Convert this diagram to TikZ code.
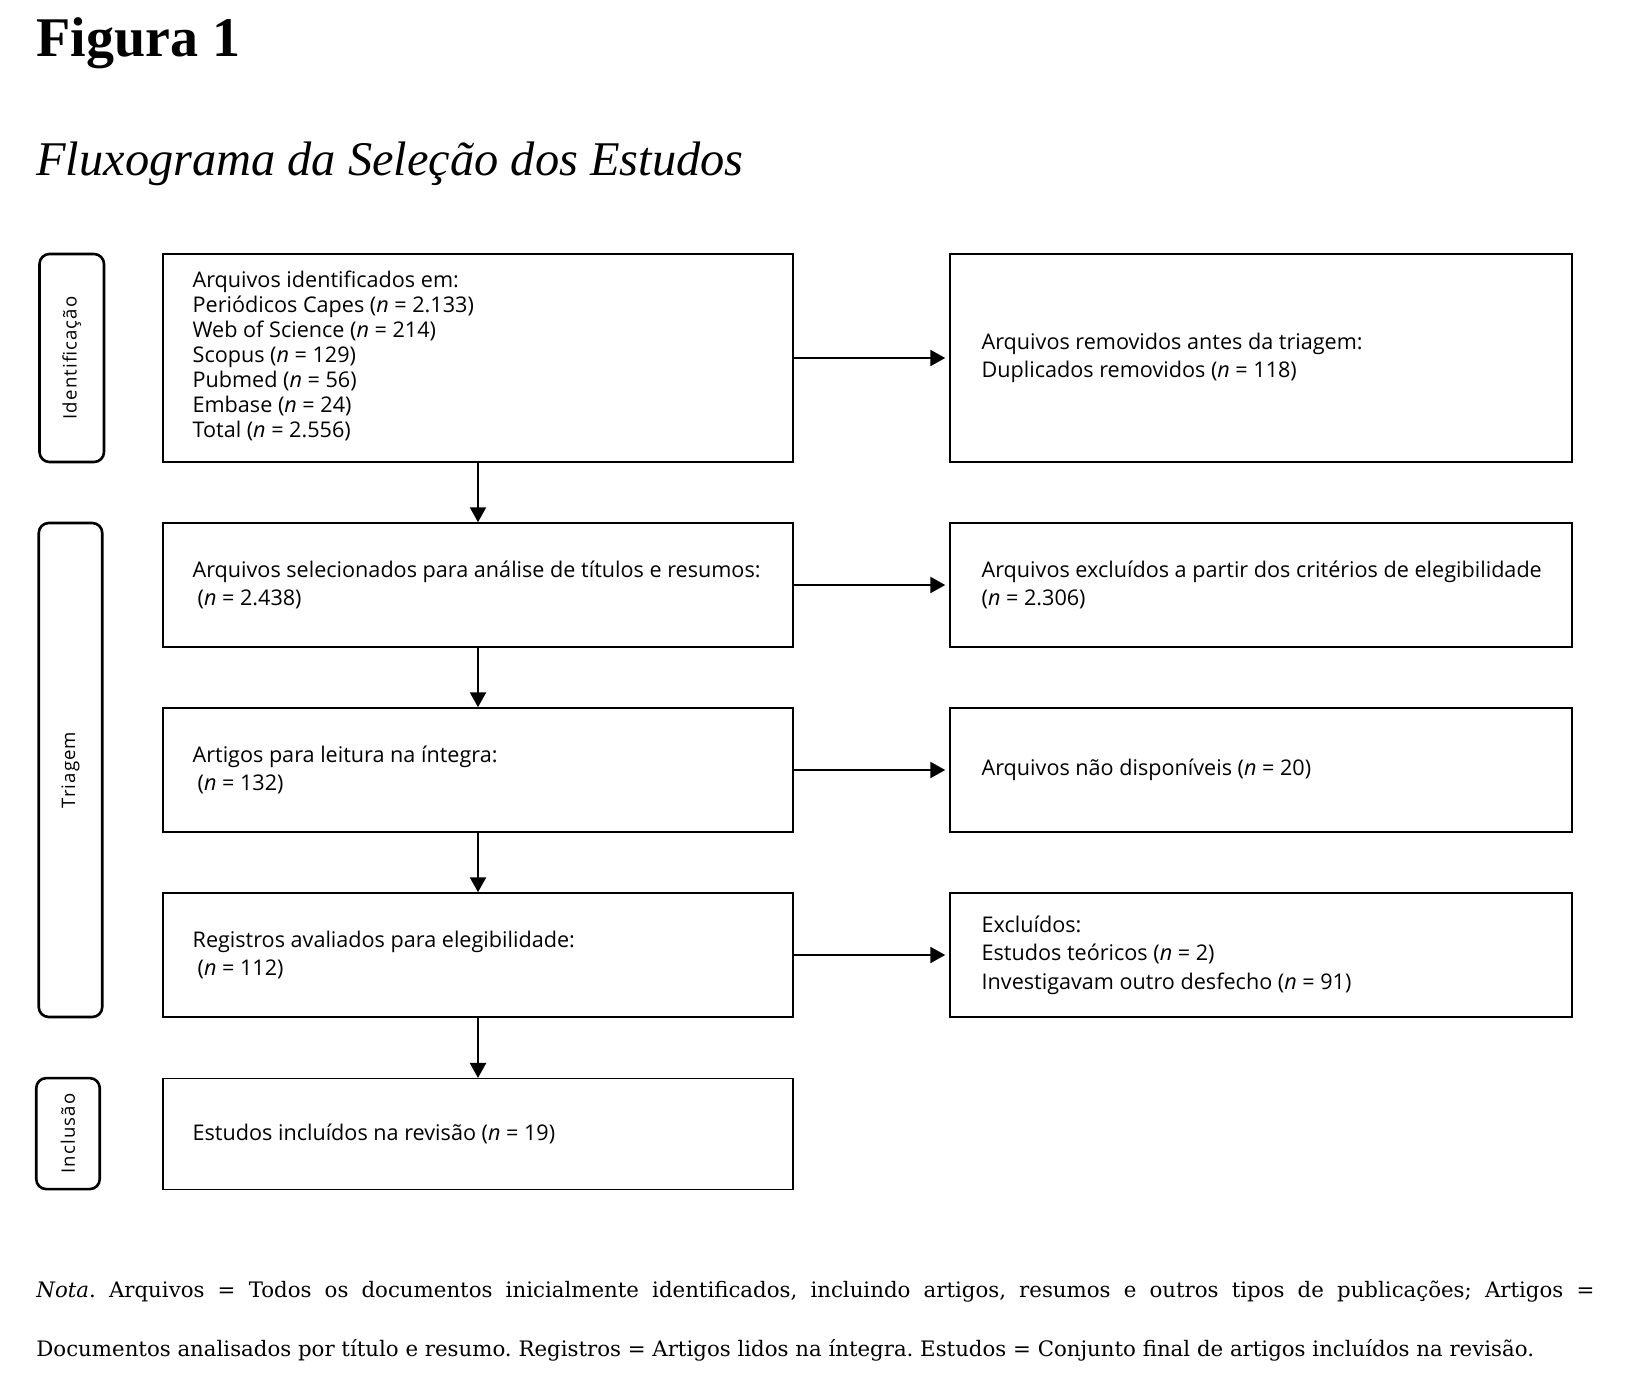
\documentclass[tikz,border=0pt]{standalone}
\usepackage{fontspec}
\usetikzlibrary{arrows.meta}
\setmainfont{DejaVu Serif}
\newfontfamily\titlefont{Liberation Serif}
\newfontfamily\boxfont{Open Sans}
\newfontfamily\sidefont[LetterSpace=6]{Open Sans}
\frenchspacing
\begin{document}
\begin{tikzpicture}[x=0.5pt,y=-0.5pt,
  flowbox/.style={draw, line width=0.75pt, inner sep=0pt, minimum width=315pt},
  rbox/.style={draw, line width=0.75pt, inner sep=0pt, minimum width=311pt},
  stagebox/.style={draw, line width=1.3pt, rounded corners=5pt, inner sep=0pt, rotate=90,
     font=\sidefont\fontsize{9.3}{11}\selectfont},
  boxtext/.style={anchor=west, align=left, inner sep=0pt,
     font=\boxfont\fontsize{10.8}{14.2}\selectfont},
  arr/.style={line width=1.2pt, -{Triangle[length=7.5pt,width=8pt]}},
  harr/.style={arr, shorten >=2pt}
]
\useasboundingbox (0,0) rectangle (1628,1386);

% titles
\node[anchor=base west, inner sep=0pt, font=\titlefont\bfseries\fontsize{28}{30}\selectfont] (fig) at (36,57) {Figura 1};
\node[anchor=base west, inner sep=0pt, font=\titlefont\itshape\fontsize{24.2}{28}\selectfont] (sub) at (36,176) {Fluxograma da Seleção dos Estudos};

% stage labels
\node[stagebox, minimum width=104pt, minimum height=32.25pt] (sid) at (71.75,358) {Identificação};
\node[stagebox, minimum width=247pt, minimum height=31.75pt] (stri) at (70.5,770) {Triagem};
\node[stagebox, minimum width=55.5pt, minimum height=31.75pt] (sinc) at (68,1133.6) {Inclusão};

% left boxes
\node[flowbox, minimum height=104pt] (b1) at (478,358) {};
\node[flowbox, minimum height=62pt] (b2) at (478,585) {};
\node[flowbox, minimum height=62pt] (b3) at (478,770) {};
\node[flowbox, minimum height=62pt] (b4) at (478,955) {};
\node[flowbox, minimum height=55.3pt] (b5) at (478,1134) {};

% right boxes
\node[rbox, minimum height=104pt] (r1) at (1261,358) {};
\node[rbox, minimum height=62pt] (r2) at (1261,585) {};
\node[rbox, minimum height=62pt] (r3) at (1261,770) {};
\node[rbox, minimum height=62pt] (r4) at (1261,955) {};

% texts
\node[boxtext, font=\boxfont\fontsize{10.8}{12.5}\selectfont] (t1) at ([xshift=15pt,yshift=1pt]b1.west) {Arquivos identificados em:\\
Periódicos Capes (\textit{n} = 2.133)\\
Web of Science (\textit{n} = 214)\\
Scopus (\textit{n} = 129)\\
Pubmed (\textit{n} = 56)\\
Embase (\textit{n} = 24)\\
Total (\textit{n} = 2.556)};
\node[boxtext] (t2) at ([xshift=15pt]b2.west) {Arquivos selecionados para análise de títulos e resumos:\\
\hspace{2.5pt}(\textit{n} = 2.438)};
\node[boxtext] (t3) at ([xshift=15pt]b3.west) {Artigos para leitura na íntegra:\\
\hspace{2.5pt}(\textit{n} = 132)};
\node[boxtext] (t4) at ([xshift=15pt]b4.west) {Registros avaliados para elegibilidade:\\
\hspace{2.5pt}(\textit{n} = 112)};
\node[boxtext] (t5) at ([xshift=15pt]b5.west) {Estudos incluídos na revisão (\textit{n} = 19)};

\node[boxtext] (u1) at ([xshift=16pt]r1.west) {Arquivos removidos antes da triagem:\\
Duplicados removidos (\textit{n} = 118)};
\node[boxtext] (u2) at ([xshift=16pt]r2.west) {Arquivos excluídos a partir dos critérios de elegibilidade\\
(\textit{n} = 2.306)};
\node[boxtext] (u3) at ([xshift=16pt]r3.west) {Arquivos não disponíveis (\textit{n} = 20)};
\node[boxtext] (u4) at ([xshift=16pt]r4.west) {Excluídos:\\
Estudos teóricos (\textit{n} = 2)\\
Investigavam outro desfecho (\textit{n} = 91)};

% arrows
\draw[arr] (b1.south) -- (b2.north);
\draw[arr] (b2.south) -- (b3.north);
\draw[arr] (b3.south) -- (b4.north);
\draw[arr] (b4.south) -- (b5.north);
\draw[harr] (b1.east) -- (r1.west);
\draw[harr] (b2.east) -- (r2.west);
\draw[harr] (b3.east) -- (r3.west);
\draw[harr] (b4.east) -- (r4.west);

% note
\node[anchor=base west, inner sep=0pt, font=\fontsize{10.65}{12}\selectfont] (nota1) at (36,1297) {\makebox[779pt][s]{\textit{Nota}. Arquivos = Todos os documentos inicialmente identificados, incluindo artigos, resumos e outros tipos de publicações; Artigos =}};
\node[anchor=base west, inner sep=0pt, font=\fontsize{10.65}{12}\selectfont] (nota2) at (36,1356) {Documentos analisados por título e resumo. Registros = Artigos lidos na íntegra. Estudos = Conjunto final de artigos incluídos na revisão.};
\end{tikzpicture}
\end{document}
